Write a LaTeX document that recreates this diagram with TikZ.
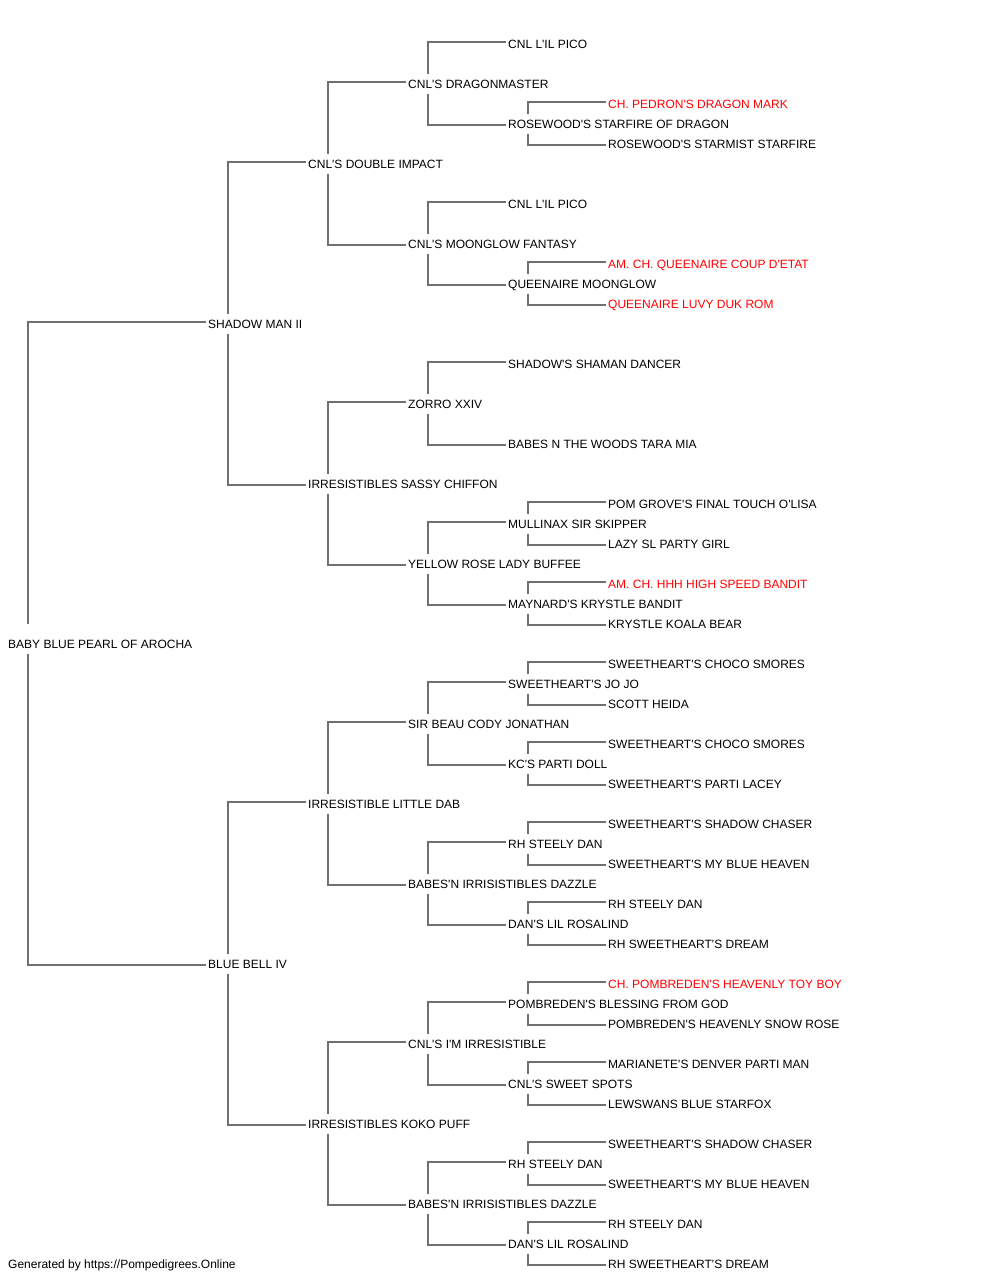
\documentclass[tikz,border=0pt]{standalone}
\usepackage{fontspec}
\newfontfamily\pedfont{Liberation Sans}
\definecolor{linkgray}{RGB}{112,112,112}
\definecolor{champred}{RGB}{255,0,0}
\tikzset{
  pn/.style={anchor=west, inner xsep=0pt, inner ysep=5pt, text height=9pt, text depth=0pt,
    font=\pedfont\fontsize{12}{14}\selectfont, text=black},
  champ/.style={pn, text=champred},
  rootn/.style={pn, text height=19pt},
  link/.style={draw=linkgray, line width=1.2pt}
}
\newcommand\pedlink[3]{%
  \draw[link] ([xshift=-2pt,yshift=2pt]#2.west) -| ([xshift=20pt]#1.north west);
  \draw[link] ([xshift=20pt]#1.south west) |- ([xshift=-2pt,yshift=-1pt]#3.west);
}
\begin{document}
\begin{tikzpicture}[x=1pt,y=-1pt]
\useasboundingbox (0,0) rectangle (1000,1280);
% generation 0
\node[rootn] (r) at (8,638.8) {BABY BLUE PEARL OF AROCHA};
% generation 1
\node[pn] (r1) at (208,324) {SHADOW MAN II};
\node[pn] (r2) at (208,964) {BLUE BELL IV};
% generation 2
\node[pn] (r11) at (308,164) {CNL'S DOUBLE IMPACT};
\node[pn] (r12) at (308,484) {IRRESISTIBLES SASSY CHIFFON};
\node[pn] (r21) at (308,804) {IRRESISTIBLE LITTLE DAB};
\node[pn] (r22) at (308,1124) {IRRESISTIBLES KOKO PUFF};
% generation 3
\node[pn] (r111) at (408,84) {CNL'S DRAGONMASTER};
\node[pn] (r112) at (408,244) {CNL'S MOONGLOW FANTASY};
\node[pn] (r121) at (408,404) {ZORRO XXIV};
\node[pn] (r122) at (408,564) {YELLOW ROSE LADY BUFFEE};
\node[pn] (r211) at (408,724) {SIR BEAU CODY JONATHAN};
\node[pn] (r212) at (408,884) {BABES'N IRRISISTIBLES DAZZLE};
\node[pn] (r221) at (408,1044) {CNL'S I'M IRRESISTIBLE};
\node[pn] (r222) at (408,1204) {BABES'N IRRISISTIBLES DAZZLE};
% generation 4
\node[pn] (r1111) at (508,44) {CNL L'IL PICO};
\node[pn] (r1112) at (508,124) {ROSEWOOD'S STARFIRE OF DRAGON};
\node[pn] (r1121) at (508,204) {CNL L'IL PICO};
\node[pn] (r1122) at (508,284) {QUEENAIRE MOONGLOW};
\node[pn] (r1211) at (508,364) {SHADOW'S SHAMAN DANCER};
\node[pn] (r1212) at (508,444) {BABES N THE WOODS TARA MIA};
\node[pn] (r1221) at (508,524) {MULLINAX SIR SKIPPER};
\node[pn] (r1222) at (508,604) {MAYNARD'S KRYSTLE BANDIT};
\node[pn] (r2111) at (508,684) {SWEETHEART'S JO JO};
\node[pn] (r2112) at (508,764) {KC'S PARTI DOLL};
\node[pn] (r2121) at (508,844) {RH STEELY DAN};
\node[pn] (r2122) at (508,924) {DAN'S LIL ROSALIND};
\node[pn] (r2211) at (508,1004) {POMBREDEN'S BLESSING FROM GOD};
\node[pn] (r2212) at (508,1084) {CNL'S SWEET SPOTS};
\node[pn] (r2221) at (508,1164) {RH STEELY DAN};
\node[pn] (r2222) at (508,1244) {DAN'S LIL ROSALIND};
% generation 5
\node[champ] (r11121) at (608,104) {CH. PEDRON'S DRAGON MARK};
\node[pn] (r11122) at (608,144) {ROSEWOOD'S STARMIST STARFIRE};
\node[champ] (r11221) at (608,264) {AM. CH. QUEENAIRE COUP D'ETAT};
\node[champ] (r11222) at (608,304) {QUEENAIRE LUVY DUK ROM};
\node[pn] (r12211) at (608,504) {POM GROVE'S FINAL TOUCH O'LISA};
\node[pn] (r12212) at (608,544) {LAZY SL PARTY GIRL};
\node[champ] (r12221) at (608,584) {AM. CH. HHH HIGH SPEED BANDIT};
\node[pn] (r12222) at (608,624) {KRYSTLE KOALA BEAR};
\node[pn] (r21111) at (608,664) {SWEETHEART'S CHOCO SMORES};
\node[pn] (r21112) at (608,704) {SCOTT HEIDA};
\node[pn] (r21121) at (608,744) {SWEETHEART'S CHOCO SMORES};
\node[pn] (r21122) at (608,784) {SWEETHEART'S PARTI LACEY};
\node[pn] (r21211) at (608,824) {SWEETHEART'S SHADOW CHASER};
\node[pn] (r21212) at (608,864) {SWEETHEART'S MY BLUE HEAVEN};
\node[pn] (r21221) at (608,904) {RH STEELY DAN};
\node[pn] (r21222) at (608,944) {RH SWEETHEART'S DREAM};
\node[champ] (r22111) at (608,984) {CH. POMBREDEN'S HEAVENLY TOY BOY};
\node[pn] (r22112) at (608,1024) {POMBREDEN'S HEAVENLY SNOW ROSE};
\node[pn] (r22121) at (608,1064) {MARIANETE'S DENVER PARTI MAN};
\node[pn] (r22122) at (608,1104) {LEWSWANS BLUE STARFOX};
\node[pn] (r22211) at (608,1144) {SWEETHEART'S SHADOW CHASER};
\node[pn] (r22212) at (608,1184) {SWEETHEART'S MY BLUE HEAVEN};
\node[pn] (r22221) at (608,1224) {RH STEELY DAN};
\node[pn] (r22222) at (608,1264) {RH SWEETHEART'S DREAM};
% footer
\node[pn] (footer) at (8,1264) {Generated by https://Pompedigrees.Online};
% connectors
\pedlink{r}{r1}{r2}
\pedlink{r1}{r11}{r12}
\pedlink{r2}{r21}{r22}
\pedlink{r11}{r111}{r112}
\pedlink{r12}{r121}{r122}
\pedlink{r21}{r211}{r212}
\pedlink{r22}{r221}{r222}
\pedlink{r111}{r1111}{r1112}
\pedlink{r112}{r1121}{r1122}
\pedlink{r121}{r1211}{r1212}
\pedlink{r122}{r1221}{r1222}
\pedlink{r211}{r2111}{r2112}
\pedlink{r212}{r2121}{r2122}
\pedlink{r221}{r2211}{r2212}
\pedlink{r222}{r2221}{r2222}
\pedlink{r1112}{r11121}{r11122}
\pedlink{r1122}{r11221}{r11222}
\pedlink{r1221}{r12211}{r12212}
\pedlink{r1222}{r12221}{r12222}
\pedlink{r2111}{r21111}{r21112}
\pedlink{r2112}{r21121}{r21122}
\pedlink{r2121}{r21211}{r21212}
\pedlink{r2122}{r21221}{r21222}
\pedlink{r2211}{r22111}{r22112}
\pedlink{r2212}{r22121}{r22122}
\pedlink{r2221}{r22211}{r22212}
\pedlink{r2222}{r22221}{r22222}
\end{tikzpicture}
\end{document}
